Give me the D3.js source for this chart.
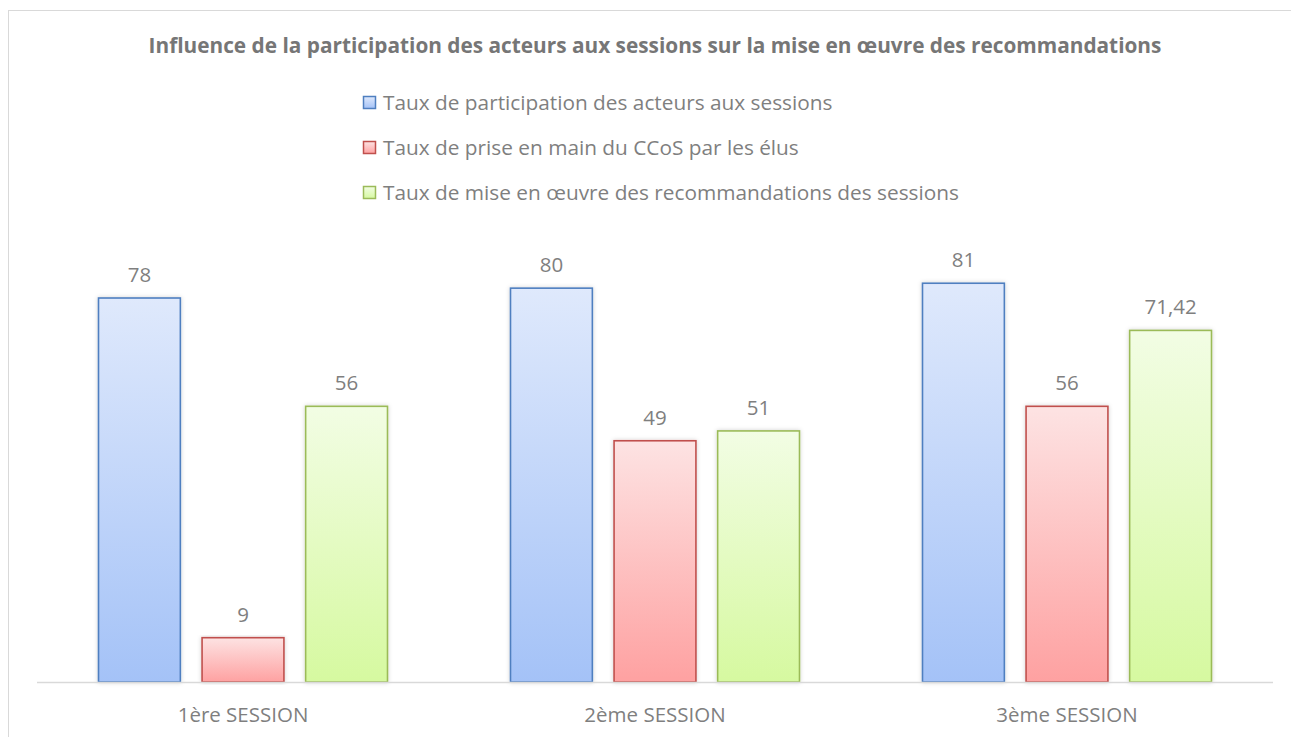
<!DOCTYPE html>
<html><head><meta charset="utf-8">
<script src="https://cdn.jsdelivr.net/npm/d3@7"></script>
<style>body{margin:0;background:#fff;}svg{display:block;}</style>
</head><body><svg id="c" width="1291" height="737"></svg>
<script>
const categories = ["1ère SESSION", "2ème SESSION", "3ème SESSION"];
const seriesNames = ["Taux de participation des acteurs aux sessions", "Taux de prise en main du CCoS par les élus", "Taux de mise en œuvre des recommandations des sessions"];
const participation = [78, 80, 81];
const priseEnMain = [9, 49, 56];
const miseEnOeuvre = [56, 51, 71.42];
const labels = [["78","80","81"],["9","49","56"],["56","51","71,42"]];
const title = "Influence de la participation des acteurs aux sessions sur la mise en œuvre des recommandations";

const values = [participation, priseEnMain, miseEnOeuvre];
const colors = [
  {top:"#dfe9fc", bot:"#a4c2f7", stroke:"#4f7fc0"},
  {top:"#fde3e3", bot:"#fea1a1", stroke:"#c0504d"},
  {top:"#f2fde4", bot:"#d6f9a0", stroke:"#9bbb59"}
];
const svg = d3.select("#c");
const font = "'Open Sans', sans-serif";
const defs = svg.append("defs");
colors.forEach((c,i)=>{
  const g = defs.append("linearGradient").attr("id","g"+i).attr("x1",0).attr("y1",0).attr("x2",0).attr("y2",1);
  g.append("stop").attr("offset","0%").attr("stop-color",c.top);
  g.append("stop").attr("offset","100%").attr("stop-color",c.bot);
});
const f = defs.append("filter").attr("id","sh").attr("x","-20%").attr("y","-5%").attr("width","140%").attr("height","110%");
f.append("feDropShadow").attr("dx",0).attr("dy",0).attr("stdDeviation",2).attr("flood-color","#000").attr("flood-opacity",0.18);

svg.append("rect").attr("x",8.5).attr("y",10.5).attr("width",1290).attr("height",740).attr("fill","#fff").attr("stroke","#d9d9d9");

svg.append("text").attr("x",655).attr("y",53).attr("text-anchor","middle")
  .attr("font-family",font).attr("font-weight","bold").attr("font-size",20.8).attr("fill","#767676").text(title);

const x0 = d3.scaleBand().domain(categories).range([37,1273]).paddingInner(0).paddingOuter(0);
const x1 = d3.scaleBand().domain([0,1,2]).range([61,x0.bandwidth()-61]).paddingInner(0.2).paddingOuter(0);
const y = d3.scaleLinear().domain([0,90]).range([682, 682-90*4.923]);

// legend
const lg = svg.append("g");
seriesNames.forEach((n,i)=>{
  const yy = 102.5 + i*45;
  lg.append("rect").attr("x",363.5).attr("y",yy-6).attr("width",12).attr("height",12)
    .attr("fill","url(#g"+i+")").attr("stroke",colors[i].stroke).attr("stroke-width",1.5);
  lg.append("text").attr("x",383).attr("y",yy+7).attr("font-family",font).attr("font-size",20.8)
    .attr("fill","#7f7f7f").text(n);
});

values.forEach((vals,si)=>{
  const g = svg.append("g");
  vals.forEach((v,ci)=>{
    const bx = x0(categories[ci]) + x1(si);
    g.append("rect").attr("x",bx+0.5).attr("y",y(v)).attr("width",x1.bandwidth()-1).attr("height",y(0)-y(v))
      .attr("fill","url(#g"+si+")").attr("stroke",colors[si].stroke).attr("stroke-width",1.6).attr("filter","url(#sh)");
    g.append("text").attr("x",bx+x1.bandwidth()/2).attr("y",y(v)-16).attr("text-anchor","middle")
      .attr("font-family",font).attr("font-size",20.5).attr("fill","#7f7f7f").text(labels[si][ci]);
  });
});

svg.append("line").attr("x1",37).attr("x2",1273).attr("y1",682.5).attr("y2",682.5).attr("stroke","#d9d9d9").attr("stroke-width",1.5);

const xa = svg.append("g").attr("transform","translate(0,682)").call(d3.axisBottom(x0).tickSize(0).tickPadding(25));
xa.select(".domain").remove();
xa.selectAll("text").attr("font-family",font).attr("font-size",20.5).attr("fill","#7f7f7f");
</script></body></html>
